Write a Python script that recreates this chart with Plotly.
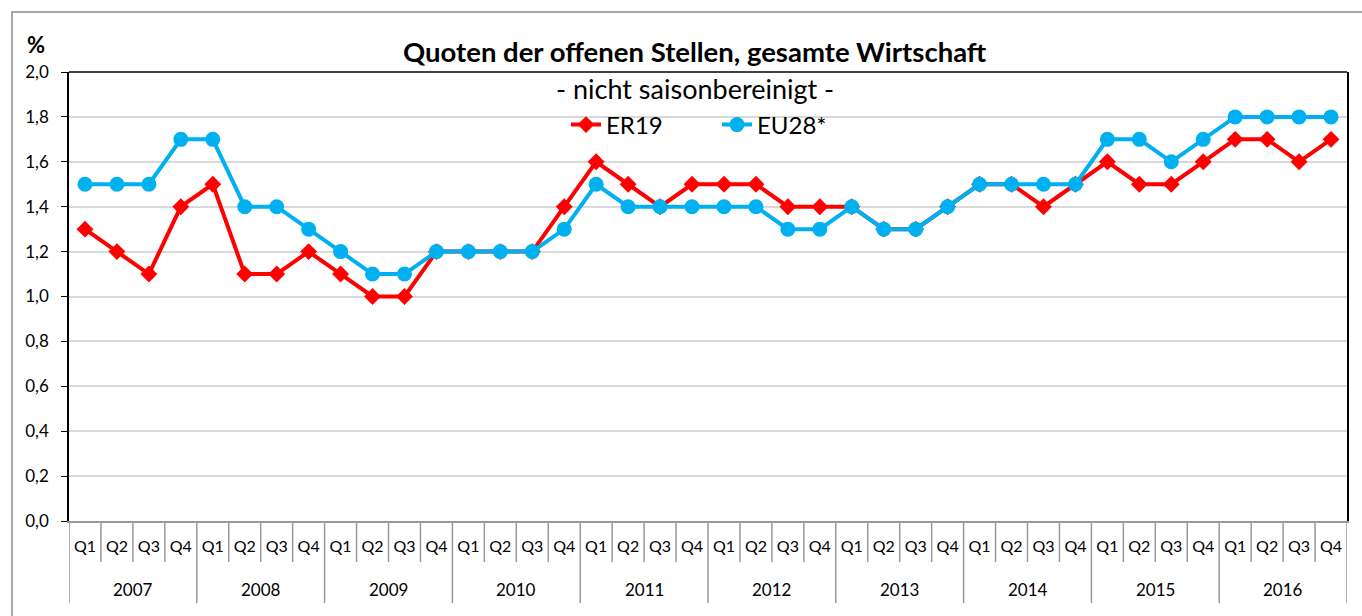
import plotly.graph_objects as go

years = ["2007", "2008", "2009", "2010", "2011", "2012", "2013", "2014", "2015", "2016"]
quarters = ["Q1", "Q2", "Q3", "Q4"]
er19 = [1.3, 1.2, 1.1, 1.4, 1.5, 1.1, 1.1, 1.2, 1.1, 1.0, 1.0, 1.2,
        1.2, 1.2, 1.2, 1.4, 1.6, 1.5, 1.4, 1.5, 1.5, 1.5, 1.4, 1.4,
        1.4, 1.3, 1.3, 1.4, 1.5, 1.5, 1.4, 1.5, 1.6, 1.5, 1.5, 1.6,
        1.7, 1.7, 1.6, 1.7]
eu28 = [1.5, 1.5, 1.5, 1.7, 1.7, 1.4, 1.4, 1.3, 1.2, 1.1, 1.1, 1.2,
        1.2, 1.2, 1.2, 1.3, 1.5, 1.4, 1.4, 1.4, 1.4, 1.4, 1.3, 1.3,
        1.4, 1.3, 1.3, 1.4, 1.5, 1.5, 1.5, 1.5, 1.7, 1.7, 1.6, 1.7,
        1.8, 1.8, 1.8, 1.8]
title = "Quoten der offenen Stellen, gesamte Wirtschaft"
subtitle = "- nicht saisonbereinigt -"

n = len(years) * len(quarters)
xs = list(range(n))
qlabels = [q for y in years for q in quarters]

FONT = "Lato"
W, H = 1362, 616
L, R, T, B = 69, 15, 72, 95
PW, PH = W - L - R, H - T - B

def py(pix):
    return (H - B - pix) / PH

def px(pix):
    return (pix - L) / PW

fig = go.Figure()
fig.add_trace(go.Scatter(x=xs, y=er19, name="ER19", mode="lines+markers",
                         line=dict(color="#FF0000", width=4),
                         marker=dict(symbol="diamond", size=13, color="#FF0000")))
fig.add_trace(go.Scatter(x=xs, y=eu28, name="EU28*", mode="lines+markers",
                         line=dict(color="#00B0F0", width=4),
                         marker=dict(symbol="circle", size=15, color="#00B0F0")))

shapes = []
# outer border
shapes.append(dict(type="rect", xref="paper", yref="paper",
                   x0=px(12), x1=px(1375), y0=py(640), y1=py(12),
                   line=dict(color="#8c8c8c", width=1.5), layer="below"))
# top frame line
shapes.append(dict(type="line", xref="paper", yref="paper", x0=0, x1=1, y0=1, y1=1,
                   line=dict(color="black", width=1.5)))
# category separators
for k in range(n + 1):
    y0 = py(603) if k % 4 == 0 else py(562)
    shapes.append(dict(type="line", xref="x", yref="paper", x0=k - 0.5, x1=k - 0.5,
                       y0=y0, y1=0, line=dict(color="#999999", width=1.5)))

annotations = []
for i, yr in enumerate(years):
    annotations.append(dict(x=4 * i + 1.5, y=py(589), xref="x", yref="paper",
                            text=yr, showarrow=False, yanchor="middle",
                            font=dict(family=FONT, size=17, color="black")))
annotations.append(dict(x=px(695), y=py(52), xref="paper", yref="paper", text="<b>" + title + "</b>",
                        showarrow=False, yanchor="middle", xanchor="center",
                        font=dict(family=FONT, size=27.5, color="black")))
annotations.append(dict(x=px(695), y=py(88), xref="paper", yref="paper", text=subtitle,
                        showarrow=False, yanchor="middle", xanchor="center",
                        font=dict(family=FONT, size=27, color="black")))
annotations.append(dict(x=px(36), y=py(44), xref="paper", yref="paper", text="<b>%</b>",
                        showarrow=False, yanchor="middle", xanchor="center",
                        font=dict(family=FONT, size=22, color="black")))

fig.update_layout(
    width=W, height=H,
    margin=dict(l=L, r=R, t=T, b=B),
    paper_bgcolor="white", plot_bgcolor="white",
    separators=",.",
    showlegend=True,
    legend=dict(orientation="h", x=px(566), y=py(125), xanchor="left", yanchor="middle",
                font=dict(family=FONT, size=24, color="black"), bgcolor="rgba(0,0,0,0)",
                entrywidth=106, entrywidthmode="pixels"),
    xaxis=dict(range=[-0.5, n - 0.5], tickmode="array", tickvals=xs, ticktext=qlabels,
               showgrid=False, zeroline=False, showline=True, linecolor="#999999", linewidth=1.5,
               ticks="", ticklabelstandoff=10,
               tickfont=dict(family=FONT, size=16, color="black")),
    yaxis=dict(range=[0, 2], dtick=0.2, tickformat=".1f", showgrid=True,
               gridcolor="#d9d9d9", gridwidth=2, zeroline=False,
               showline=True, linecolor="black", linewidth=1.5, mirror=True,
               ticks="outside", ticklen=6, tickcolor="black", ticklabelstandoff=9,
               tickfont=dict(family=FONT, size=17, color="black")),
    shapes=shapes, annotations=annotations,
    font=dict(family=FONT),
)

fig.write_html("out.html", config={"displayModeBar": False},
               post_script="document.body.style.margin='0px';")
